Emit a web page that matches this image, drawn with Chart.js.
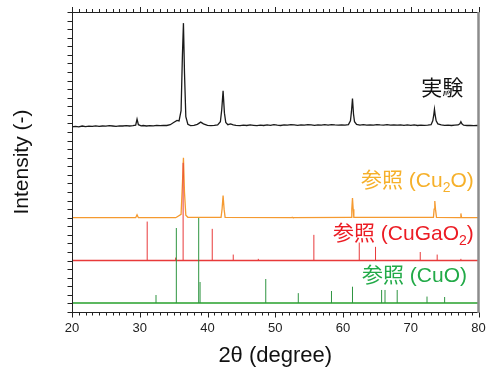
<!DOCTYPE html>
<html>
<head>
<meta charset="utf-8">
<script src="https://cdn.jsdelivr.net/npm/chart.js@4.4.1/dist/chart.umd.min.js"></script>
<style>
  html, body { margin: 0; padding: 0; background: #fff; }
  #wrap { width: 486px; height: 367px; }
</style>
</head>
<body>
<div id="wrap"><canvas id="xrd" width="486" height="367"></canvas></div>
<script>
// medido (experimental), 2theta y intensidad con offset
const expAngle = [
  20, 20.5, 21, 21.5, 22, 22.5, 23, 23.5, 24, 24.5, 25, 25.5, 26, 26.5, 27, 27.5, 28, 28.5, 29,
  29.4, 29.6, 29.8, 30.2, 30.5, 31, 31.5, 32, 32.5, 33, 33.5, 34, 34.5, 35, 35.5, 35.8,
  36.1, 36.3, 36.45, 36.6, 36.8, 37.1, 37.5, 38, 38.5, 39, 39.4, 40, 40.5, 41, 41.5,
  41.9, 42.1, 42.3, 42.5, 42.7, 43, 43.4, 43.8, 44.2, 44.8, 45.3, 45.8, 46.3, 46.8, 47.3,
  47.8, 48.3, 48.8, 49.3, 49.8, 50.3, 50.8, 51.3, 51.8, 52.3, 52.8, 53.3, 53.8, 54.3, 54.8,
  55.3, 55.8, 56.3, 56.8, 57.3, 57.8, 58.3, 58.8, 59.3, 59.8, 60.3, 60.8, 61.1, 61.25, 61.4,
  61.55, 61.7, 62, 62.5, 63, 63.5, 64, 64.5, 65, 65.5, 66, 66.5, 67, 67.5, 68, 68.5, 69,
  69.5, 70, 70.5, 71, 71.5, 72, 72.5, 73, 73.25, 73.4, 73.5, 73.6, 73.75, 74, 74.5, 75,
  75.5, 76, 76.5, 77, 77.25, 77.4, 77.55, 77.8, 78.3, 78.8, 79.3, 79.8, 80
];
const expCounts = [
  21.6, 21.65, 21.6, 21.7, 21.62, 21.68, 21.65, 21.72, 21.66, 21.7, 21.68, 21.74, 21.7, 21.66, 21.72, 21.7, 21.75, 21.7, 21.74,
  21.8, 22.5, 21.85, 21.72, 21.76, 21.7, 21.75, 21.72, 21.78, 21.74, 21.78, 21.76, 21.85, 22.1, 22.35, 22.3,
  23.5, 30, 33.7, 28, 22.8, 21.9, 21.75, 21.78, 21.9, 22.15, 21.95, 21.78, 21.75, 21.78, 21.82,
  22.2, 23.6, 25.8, 23.2, 22.1, 21.85, 21.95, 21.82, 21.78, 21.74, 21.8, 21.76, 21.82, 21.78, 21.74,
  21.8, 21.76, 21.82, 21.78, 21.85, 21.8, 21.76, 21.84, 21.8, 21.86, 21.82, 21.78, 21.84, 21.8, 21.86,
  21.82, 21.78, 21.84, 21.8, 21.85, 21.8, 21.86, 21.82, 21.8, 21.84, 21.8, 21.86, 22.3, 23.4, 24.9,
  23.1, 22.2, 21.88, 21.8, 21.85, 21.8, 21.84, 21.8, 21.86, 21.82, 21.8, 21.85, 21.8, 21.84, 21.8, 21.82, 21.78,
  21.82, 21.78, 21.82, 21.76, 21.8, 21.78, 21.8, 21.85, 22.3, 23.0, 23.65, 23.0, 22.3, 21.95, 21.82, 21.78,
  21.8, 21.76, 21.8, 21.82, 21.95, 22.2, 21.95, 21.8, 21.76, 21.78, 21.74, 21.76, 21.74
];

// referencia Cu2O (perfil simulado)
const cu2oAngle = [20, 29.4, 29.6, 29.8, 35.3, 35.6, 36.1, 36.3, 36.45, 36.6, 36.8, 37.1,
  42.0, 42.15, 42.3, 42.45, 42.6, 52.4, 52.5, 52.6, 61.2, 61.3, 61.4, 61.5, 61.6,
  73.35, 73.45, 73.55, 73.65, 73.8, 77.3, 77.4, 77.5, 80];
const cu2oCounts = [11, 11, 11.35, 11, 11, 11.15, 11.4, 15, 18, 14, 11.3, 11.05,
  11.05, 12, 13.6, 12, 11.05, 11, 11.05, 11, 11.05, 12, 13.3, 12, 11.05,
  11.05, 12, 12.95, 12, 11.05, 11, 11.5, 11, 11];

// referencia CuGaO2 (barras)
const cugao2Base = 6;
const cugao2Angle = [31.1, 35.3, 36.4, 40.7, 43.8, 47.5, 55.7, 62.4, 64.8, 71.4, 73.9, 77.4];
const cugao2Top = [10.55, 6.35, 17.4, 9.7, 6.7, 6.2, 9.0, 8.1, 7.6, 7.0, 6.7, 6.2];

// referencia CuO (barras)
const cuoBase = 1.05;
const cuoAngle = [32.4, 35.4, 38.7, 38.9, 48.6, 53.4, 58.3, 61.4, 65.7, 66.2, 68.0, 72.4, 75.0];
const cuoTop = [1.98, 9.8, 10.97, 3.5, 3.85, 2.2, 2.45, 2.95, 2.57, 2.57, 2.57, 1.8, 1.75];

const xTicks = [20, 30, 40, 50, 60, 70, 80];

function toPoints(xs, ys) {
  return xs.map((x, i) => ({ x: x, y: ys[i] }));
}

// cada barra: base -> tope -> corte
function toSticks(xs, tops, base) {
  const pts = [];
  xs.forEach((x, i) => {
    pts.push({ x: x, y: base }, { x: x, y: tops[i] }, { x: x, y: null });
  });
  return pts;
}

function baseLine(base) {
  return [{ x: 20, y: base }, { x: 80, y: base }];
}

const LATIN = '"Liberation Sans", Arial, sans-serif';
const RICH = '"Liberation Sans", "Noto Sans CJK JP", sans-serif';

// etiquetas de cada curva (posicion en unidades de datos)
const curveLabels = [
  { parts: [['実験', 0]], x: 77.75, y: 25.96, color: '#111111' },
  { parts: [['参照', 0], [' (Cu', 0], ['2', 1], ['O)', 0]], x: 79.3, y: 15.28, color: '#f6b02a' },
  { parts: [['参照', 0], [' (CuGaO', 0], ['2', 1], [')', 0]], x: 79.3, y: 9.1, color: '#ec1c24' },
  { parts: [['参照', 0], [' (CuO)', 0]], x: 78.3, y: 4.12, color: '#22aa48' }
];

const framePlugin = {
  id: 'frame',
  afterDraw(chart) {
    const { ctx, chartArea: a, scales } = chart;
    const xs = scales.x, ys = scales.y;
    ctx.save();
    ctx.strokeStyle = '#222';
    ctx.lineWidth = 1;
    ctx.beginPath();
    ctx.moveTo(a.left + 0.5, a.top); ctx.lineTo(a.left + 0.5, a.bottom + 0.5);
    ctx.moveTo(a.left, a.bottom + 0.5); ctx.lineTo(a.right, a.bottom + 0.5);
    ctx.moveTo(a.left, a.top + 0.5); ctx.lineTo(a.right, a.top + 0.5);
    // marcas de x arriba y abajo
    for (let v = 20; v <= 80; v++) {
      const px = Math.round(xs.getPixelForValue(v)) + 0.5;
      const len = v % 10 === 0 ? 5 : 3;
      ctx.moveTo(px, a.bottom); ctx.lineTo(px, a.bottom + len + 0.5);
      ctx.moveTo(px, a.top + 0.5); ctx.lineTo(px, a.top - len);
    }
    // marcas de y
    for (let v = 0; v <= 35; v++) {
      const py = Math.round(ys.getPixelForValue(v)) + 0.5;
      ctx.moveTo(a.left - 4.5, py); ctx.lineTo(a.left + 0.5, py);
    }
    ctx.stroke();
    ctx.strokeStyle = '#8c8c8c';
    ctx.lineWidth = 2.5;
    ctx.beginPath();
    ctx.moveTo(a.right, a.top); ctx.lineTo(a.right, a.bottom + 1);
    ctx.stroke();

    // etiquetas con subindices
    ctx.textBaseline = 'middle';
    curveLabels.forEach((lab) => {
      const big = 21, small = 14;
      let w = 0;
      lab.parts.forEach(([t, sub]) => {
        ctx.font = (sub ? small : big) + 'px ' + RICH;
        w += ctx.measureText(t).width;
      });
      let cx = xs.getPixelForValue(lab.x) - w;
      const cy = ys.getPixelForValue(lab.y);
      ctx.fillStyle = lab.color;
      lab.parts.forEach(([t, sub]) => {
        ctx.font = (sub ? small : big) + 'px ' + RICH;
        ctx.fillText(t, cx, sub ? cy + 7 : cy);
        cx += ctx.measureText(t).width;
      });
    });
    ctx.restore();
  }
};

const ctx = document.getElementById('xrd');
const chart = new Chart(ctx, {
  type: 'scatter',
  plugins: [framePlugin],
  data: {
    datasets: [
      { label: 'CuO', data: toSticks(cuoAngle, cuoTop, cuoBase), showLine: true, spanGaps: false,
        borderColor: '#2e9440', borderWidth: 1, pointRadius: 0 },
      { label: 'CuO base', data: baseLine(cuoBase), showLine: true,
        borderColor: '#5cb860', borderWidth: 2, pointRadius: 0 },
      { label: 'CuGaO2', data: toSticks(cugao2Angle, cugao2Top, cugao2Base), showLine: true, spanGaps: false,
        borderColor: '#e8393a', borderWidth: 1, pointRadius: 0 },
      { label: 'CuGaO2 base', data: baseLine(cugao2Base), showLine: true,
        borderColor: '#e83a3a', borderWidth: 1.5, pointRadius: 0 },
      { label: 'Cu2O', data: toPoints(cu2oAngle, cu2oCounts), showLine: true,
        borderColor: '#f59a30', borderWidth: 1.3, pointRadius: 0 },
      { label: 'exp', data: toPoints(expAngle, expCounts), showLine: true,
        borderColor: '#1a1a1a', borderWidth: 1.3, pointRadius: 0 }
    ]
  },
  options: {
    responsive: false,
    devicePixelRatio: 1,
    animation: false,
    layout: { padding: { top: 12, right: 7.5, left: 0, bottom: 0 } },
    plugins: { legend: { display: false }, tooltip: { enabled: false } },
    scales: {
      x: {
        type: 'linear', min: 20, max: 80,
        afterBuildTicks: (s) => { s.ticks = xTicks.map((v) => ({ value: v })); },
        afterFit: (s) => { s.height = 55; s.paddingRight = 0; s.paddingLeft = 0; },
        grid: { display: false, drawTicks: false },
        border: { display: false },
        ticks: { font: { family: LATIN, size: 13 }, color: '#222', padding: 9, maxRotation: 0 },
        title: { display: true, text: '2θ (degree)', color: '#111',
          font: { family: LATIN, size: 22, lineHeight: 1 }, padding: { top: 0, bottom: 0 } }
      },
      y: {
        type: 'linear', min: 0, max: 35,
        afterFit: (s) => { s.width = 72; },
        grid: { display: false, drawTicks: false },
        border: { display: false },
        ticks: { display: false },
        title: { display: true, text: 'Intensity (-)', color: '#111',
          font: { family: LATIN, size: 21, lineHeight: 1 }, padding: { top: 12, bottom: 0 } }
      }
    }
  }
});
</script>
</body>
</html>
